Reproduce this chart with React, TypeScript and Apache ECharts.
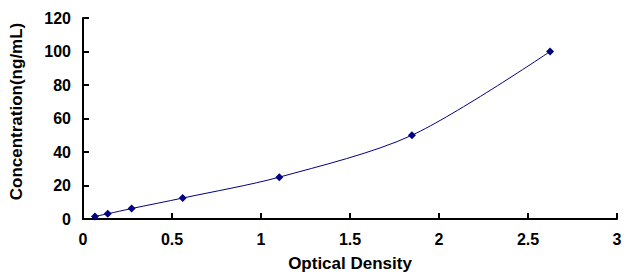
import React, { useEffect, useRef } from "react";
import * as echarts from "echarts";

const opticalDensity = [0.067, 0.139, 0.273, 0.56, 1.103, 1.848, 2.624];
const concentration = [1.56, 3.12, 6.25, 12.5, 25, 50, 100];
const xTitle = "Optical Density";
const yTitle = "Concentration(ng/mL)";

export default function App() {
  const ref = useRef<HTMLDivElement>(null);
  useEffect(() => {
    if (!ref.current) return;
    const chart = echarts.init(ref.current, undefined, { renderer: "svg" });
    const font = "'Liberation Sans', Arial, sans-serif";
    const axisCommon = {
      axisLine: { show: true, lineStyle: { color: "#000", width: 2 } },
      axisTick: { show: true, inside: true, length: 6, lineStyle: { color: "#000", width: 2 } },
      splitLine: { show: false },
      axisLabel: { color: "#000", fontWeight: "bold" as const, fontSize: 16, fontFamily: font },
      nameLocation: "middle" as const,
    };
    const nameStyle = { color: "#000", fontWeight: "bold" as const, fontSize: 17, fontFamily: font };
    chart.setOption({
      animation: false,
      backgroundColor: "#fff",
      grid: { left: 83, right: 13, top: 18, bottom: 59, containLabel: false },
      xAxis: {
        type: "value",
        min: 0,
        max: 3,
        interval: 0.5,
        name: xTitle,
        nameGap: 36,
        nameTextStyle: nameStyle,
        ...axisCommon,
        axisLabel: { ...axisCommon.axisLabel, margin: 12 },
      },
      yAxis: {
        type: "value",
        min: 0,
        max: 120,
        interval: 20,
        name: yTitle,
        nameGap: 58,
        nameTextStyle: { ...nameStyle, padding: [0, 0, 0, 14] },
        ...axisCommon,
        axisLabel: { ...axisCommon.axisLabel, margin: 12 },
      },
      series: [
        {
          type: "line",
          data: opticalDensity.map((x, i) => [x, concentration[i]]),
          smooth: 0.3,
          symbol: "diamond",
          symbolSize: 8,
          lineStyle: { color: "#000080", width: 1 },
          itemStyle: { color: "#000080" },
        },
      ],
    });
    return () => chart.dispose();
  }, []);
  return <div ref={ref} style={{ width: 630, height: 278, position: "absolute", left: 0, top: 0 }} />;
}
